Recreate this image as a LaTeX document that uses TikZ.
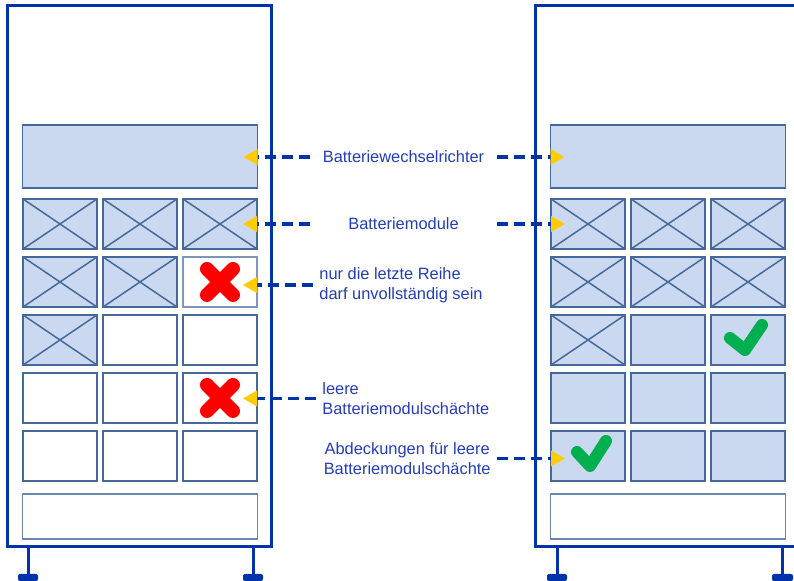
\documentclass[tikz,border=0pt]{standalone}
\usepackage{fontspec}
\setmainfont{Liberation Sans}
\usetikzlibrary{arrows.meta,positioning}

\definecolor{cabblue}{RGB}{0,51,170}
\definecolor{slotline}{RGB}{70,105,155}
\definecolor{slotfill}{RGB}{202,217,240}
\definecolor{notetext}{RGB}{35,60,185}
\definecolor{tipyellow}{RGB}{255,204,0}
\definecolor{okgreen}{RGB}{0,176,80}

\begin{document}
\begin{tikzpicture}[
    x=0.5pt, y=-0.5pt,
    font=\fontsize{8.2}{10}\selectfont,
    cabinet/.style={draw=cabblue, line width=1.5pt},
    foot/.style={fill=cabblue, rounded corners=1pt},
    slot/.style={draw=slotline, line width=0.75pt, minimum width=37pt, minimum height=25pt, inner sep=0pt, outer sep=0pt, fill=white},
    cover/.style={slot, fill=slotfill},
    module/.style={cover, path picture={\draw[slotline, line width=0.75pt] (path picture bounding box.north west) -- (path picture bounding box.south east) (path picture bounding box.south west) -- (path picture bounding box.north east);}},
    inverter/.style={cover, minimum width=117.5pt, minimum height=31.5pt},
    base/.style={slot, draw=slotline!80, line width=0.6pt, minimum width=117.5pt, minimum height=22.5pt},
    note/.style={text=notetext, inner sep=3pt},
    link/.style={draw=cabblue, line width=1.75pt, dash pattern=on 5.5pt off 3pt, -{Triangle[length=7pt, width=8pt, line width=0pt, fill=tipyellow, color=tipyellow]}},
    nogo/.style={draw=red, line width=7pt, line cap=round},
    okay/.style={draw=okgreen, line width=6pt, line cap=round, line join=round}
]
\useasboundingbox (0,0) rectangle (794,581);

% left cabinet
\draw[cabinet] (7,6) rectangle (271,547);
\draw[cabinet] (28,547) -- (28,576) (253,547) -- (253,576);
\fill[foot] (18,574) rectangle (38,581);
\fill[foot] (243,574) rectangle (263,581);

\node[module] (l11) at (60,224) {};
\node[module, right=3pt of l11] (l12) {};
\node[module, right=3pt of l12] (l13) {};
\node[module, below=4pt of l11] (l21) {};
\node[module, right=3pt of l21] (l22) {};
\node[slot, draw=slotline!70, right=3pt of l22] (l23) {};
\node[module, below=4pt of l21] (l31) {};
\node[slot, right=3pt of l31] (l32) {};
\node[slot, right=3pt of l32] (l33) {};
\node[slot, below=4pt of l31] (l41) {};
\node[slot, right=3pt of l41] (l42) {};
\node[slot, right=3pt of l42] (l43) {};
\node[slot, below=4pt of l41] (l51) {};
\node[slot, right=3pt of l51] (l52) {};
\node[slot, right=3pt of l52] (l53) {};
\node[inverter, above=5.5pt of l12] (linv) {};
\node[base, below=6.5pt of l52] (lbase) {};

% right cabinet, open to the right
\draw[cabinet] (794,6) -- (535,6) -- (535,547) -- (794,547);
\draw[cabinet] (557,547) -- (557,576) (782,547) -- (782,576);
\fill[foot] (547,574) rectangle (567,581);
\fill[foot] (772,574) rectangle (793,581);

\node[module] (r11) at (588,224) {};
\node[module, right=3pt of r11] (r12) {};
\node[module, right=3pt of r12] (r13) {};
\node[module, below=4pt of r11] (r21) {};
\node[module, right=3pt of r21] (r22) {};
\node[module, right=3pt of r22] (r23) {};
\node[module, below=4pt of r21] (r31) {};
\node[cover, right=3pt of r31] (r32) {};
\node[cover, right=3pt of r32] (r33) {};
\node[cover, below=4pt of r31] (r41) {};
\node[cover, right=3pt of r41] (r42) {};
\node[cover, right=3pt of r42] (r43) {};
\node[cover, below=4pt of r41] (r51) {};
\node[cover, right=3pt of r51] (r52) {};
\node[cover, right=3pt of r52] (r53) {};
\node[inverter, above=5.5pt of r12] (rinv) {};
\node[base, below=6.5pt of r52] (rbase) {};

% red crosses and green ticks
\draw[nogo] ([shift={(-6.5pt,-6.5pt)}]l23.center) -- ++(13pt,13pt) ([shift={(-6.5pt,6.5pt)}]l23.center) -- ++(13pt,-13pt);
\draw[nogo] ([shift={(-6.5pt,-6.5pt)}]l43.center) -- ++(13pt,13pt) ([shift={(-6.5pt,6.5pt)}]l43.center) -- ++(13pt,-13pt);
\draw[okay] ([shift={(-9pt,1pt)}]r33.center) -- ++(7.5pt,-6pt) -- ++(8.5pt,12.5pt);
\draw[okay] ([shift={(-5.5pt,2pt)}]r51.center) -- ++(6.5pt,-7pt) -- ++(8pt,12.5pt);

% notes
\node[note, minimum width=93.5pt] (wr) at (403.5,157) {Batteriewechselrichter};
\node[note, minimum width=93.5pt] (bm) at (403.5,224) {Batteriemodule};
\node[note, anchor=west, align=left] (reihe) at (313,285) {nur die letzte Reihe\\darf unvollständig sein};
\node[note, anchor=west, align=left] (leer) at (316,398.5) {leere\\Batteriemodulschächte};
\node[note, anchor=east, align=center] (abd) at (497,458.5) {Abdeckungen für leere\\Batteriemodulschächte};

\draw[link] (wr.west) -- ([xshift=-7pt]linv.east |- wr.west);
\draw[link] (wr.east) -- ([xshift=7pt]rinv.west |- wr.east);
\draw[link] (bm.west) -- ([xshift=-7pt]l13.east |- bm.west);
\draw[link] (bm.east) -- ([xshift=7pt]r11.west |- bm.east);
\draw[link] (reihe.west) -- ([xshift=-7pt]l23.east |- reihe.west);
\draw[link] (leer.west) -- ([xshift=-7pt]l43.east |- leer.west);
\draw[link] (abd.east) -- ([xshift=7pt]r51.west |- abd.east);
\end{tikzpicture}
\end{document}
